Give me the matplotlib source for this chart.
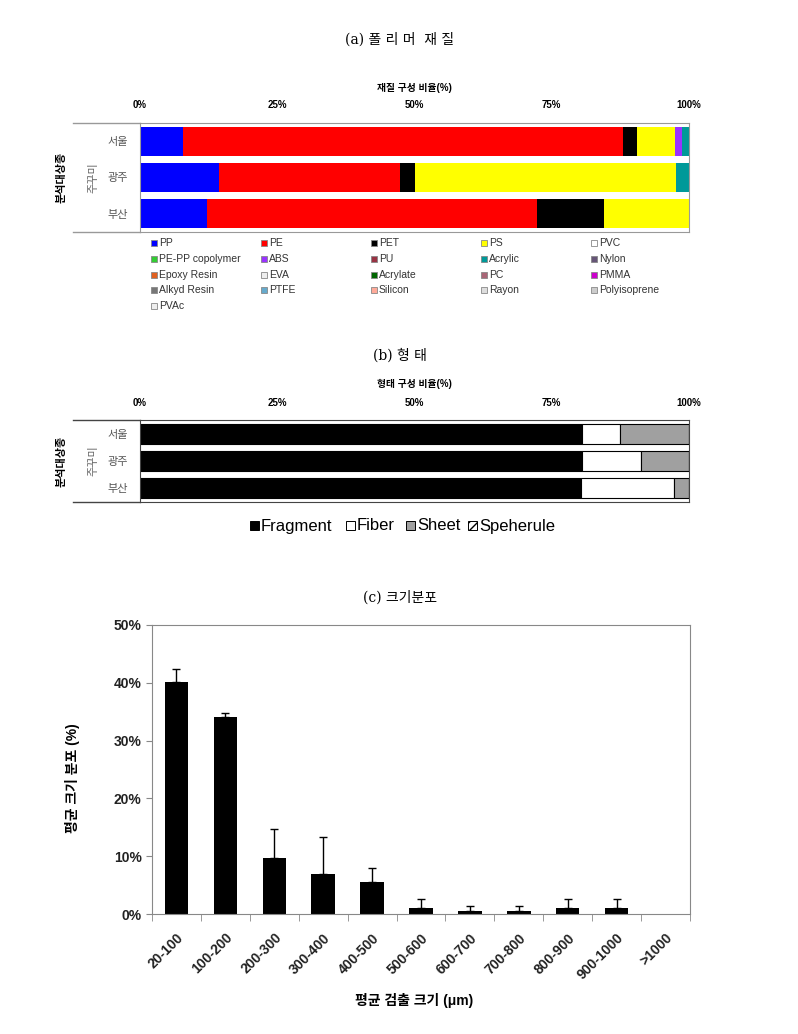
import numpy as np
import matplotlib.pyplot as plt
from matplotlib.patches import Rectangle

plt.rcParams['font.family'] = ['Liberation Sans', 'Noto Sans CJK KR']

# ---- data ----
regions = ['서울', '광주', '부산']

polymer_types = ['PP', 'PE', 'PET', 'PS', 'PVC',
                 'PE-PP copolymer', 'ABS', 'PU', 'Acrylic', 'Nylon',
                 'Epoxy Resin', 'EVA', 'Acrylate', 'PC', 'PMMA',
                 'Alkyd Resin', 'PTFE', 'Silicon', 'Rayon', 'Polyisoprene',
                 'PVAc']
polymer_colors = ['#0000FF', '#FF0000', '#000000', '#FFFF00', '#FFFFFF',
                  '#33CC33', '#9933FF', '#993344', '#009999', '#665577',
                  '#E06020', '#EEEEEE', '#006600', '#AA6677', '#CC00CC',
                  '#777777', '#66AACC', '#FFAA99', '#DDDDDD', '#CCCCCC',
                  '#EEEEEE']

# % share per region (서울, 광주, 부산); types not listed are 0
pp_pct = [7.8, 14.4, 12.2]
pe_pct = [80.2, 33.0, 60.1]
pet_pct = [2.5, 2.7, 12.2]
ps_pct = [6.9, 47.5, 15.5]
abs_pct = [1.3, 0.0, 0.0]
acrylic_pct = [1.3, 2.4, 0.0]
polymer_pct = {'PP': pp_pct, 'PE': pe_pct, 'PET': pet_pct, 'PS': ps_pct,
               'ABS': abs_pct, 'Acrylic': acrylic_pct}

shape_types = ['Fragment', 'Fiber', 'Sheet', 'Speherule']
shape_colors = ['#000000', '#FFFFFF', '#A0A0A0', '#FFFFFF']
fragment_pct = [80.5, 80.5, 80.3]
fiber_pct = [6.9, 10.8, 17.0]
sheet_pct = [12.6, 8.7, 2.7]
spherule_pct = [0.0, 0.0, 0.0]
shape_pct = [fragment_pct, fiber_pct, sheet_pct, spherule_pct]

size_bins = ['20-100', '100-200', '200-300', '300-400', '400-500', '500-600',
             '600-700', '700-800', '800-900', '900-1000', '>1000']
size_mean = [40.1, 34.1, 9.7, 6.9, 5.6, 1.0, 0.45, 0.45, 1.0, 1.0, 0.0]
size_err = [2.3, 0.7, 5.0, 6.4, 2.4, 1.6, 0.9, 0.9, 1.6, 1.6, 0.0]

# ---- figure ----
W, H = 798, 1034
fig = plt.figure(figsize=(W / 100, H / 100), dpi=100)

# overlay in pixel coords for free text
bg = fig.add_axes([0, 0, 1, 1])
bg.set_xlim(0, W)
bg.set_ylim(H, 0)
bg.axis('off')


def fig_box(x0, y0, x1, y1):
    return [x0 / W, 1 - y1 / H, (x1 - x0) / W, (y1 - y0) / H]


serif = ['DejaVu Serif', 'Noto Sans CJK KR']
bg.text(400, 40, '(a) 폴 리 머  재 질', ha='center', va='center', fontsize=10, family=serif)
bg.text(400, 355, '(b) 형 태', ha='center', va='center', fontsize=10, family=serif)
bg.text(400, 598, '(c) 크기분포', ha='center', va='center', fontsize=10, family=serif)


def stacked_panel(box, frame_color):
    ax = fig.add_axes(fig_box(*box))
    ax.set_xlim(0, 100)
    ax.set_ylim(2.5, -0.5)
    ax.xaxis.tick_top()
    ax.set_xticks([0, 25, 50, 75, 100])
    ax.set_xticklabels(['0%', '25%', '50%', '75%', '100%'], fontsize=7, fontweight='bold')
    ax.tick_params(axis='x', length=0, pad=9)
    ax.set_yticks(range(len(regions)))
    ax.set_yticklabels(regions, fontsize=8, color='#555555')
    ax.tick_params(axis='y', length=0, pad=9)
    for s in ax.spines.values():
        s.set_color(frame_color)
    x0, y0, x1, y1 = box
    bg.plot([73, x0], [y0, y0], color=frame_color, lw=1)
    bg.plot([73, x0], [y1, y1], color=frame_color, lw=1)
    mid = (y0 + y1) / 2
    bg.text(93, mid, '주꾸미', rotation=90, ha='center', va='center', fontsize=8, color='#666666')
    bg.text(62, mid, '분석대상종', rotation=90, ha='center', va='center', fontsize=8,
            fontweight='bold')
    return ax


# (a) polymer composition
ax_a = stacked_panel((140, 123, 689, 232), '#999999')
ypos = np.arange(len(regions))
left = np.zeros(len(regions))
for name, color in zip(polymer_types, polymer_colors):
    vals = np.array(polymer_pct.get(name, [0.0, 0.0, 0.0]))
    ax_a.barh(ypos, vals, left=left, height=0.8, color=color, edgecolor='none')
    left += vals
bg.text(414, 88, '재질 구성 비율(%)', ha='center', va='center', fontsize=7, fontweight='bold')

# legend (a), filled row by row
for i, (name, color) in enumerate(zip(polymer_types, polymer_colors)):
    r, c = divmod(i, 5)
    lx = 151 + c * 110
    ly = 243 + r * 15.8
    bg.add_patch(Rectangle((lx, ly - 3), 6, 6, facecolor=color, edgecolor='#888888', lw=0.6))
    bg.text(lx + 8, ly, name, ha='left', va='center', fontsize=7.5, color='#333333')

# (b) shape composition
ax_b = stacked_panel((140, 420, 689, 502), '#444444')
left = np.zeros(len(regions))
for name, color, vals in zip(shape_types, shape_colors, shape_pct):
    vals = np.array(vals)
    ax_b.barh(ypos, vals, left=left, height=0.73, color=color, edgecolor='black', lw=0.8,
              hatch='/////' if name == 'Speherule' else None)
    left += vals
bg.text(414, 384, '형태 구성 비율(%)', ha='center', va='center', fontsize=7, fontweight='bold')

leg_x = [250, 346, 406, 468]
for name, color, lx in zip(shape_types, shape_colors, leg_x):
    bg.add_patch(Rectangle((lx, 521), 9, 9, facecolor=color, edgecolor='black', lw=0.7,
                           hatch='////' if name == 'Speherule' else None))
    bg.text(lx + 11, 526, name, ha='left', va='center', fontsize=12)

# (c) size distribution
ax_c = fig.add_axes(fig_box(152, 625, 690, 914))
xpos = np.arange(len(size_bins))
means = np.array(size_mean)
errs = np.array(size_err)
ax_c.bar(xpos, means, width=0.48, color='black')
has_err = errs > 0
ax_c.errorbar(xpos[has_err], means[has_err],
              yerr=[np.zeros(has_err.sum()), errs[has_err]],
              fmt='none', ecolor='black', elinewidth=1, capsize=3, capthick=1)
ax_c.set_xlim(-0.5, len(size_bins) - 0.5)
ax_c.set_ylim(0, 50)
ax_c.set_yticks(np.arange(0, 51, 10))
ax_c.set_yticklabels([f'{v}%' for v in range(0, 51, 10)], fontsize=10, fontweight='bold',
                     color='#222222')
ax_c.set_xticks(xpos)
ax_c.set_xticklabels(size_bins, rotation=45, ha='right', rotation_mode='anchor',
                     fontsize=10, fontweight='bold', color='#222222')
ax_c.set_xticks(np.arange(-0.5, len(size_bins), 1), minor=True)
ax_c.tick_params(axis='x', which='major', length=0, pad=12)
ax_c.tick_params(axis='x', which='minor', length=5, color='#888888', direction='out')
ax_c.tick_params(axis='y', length=4, color='#888888', direction='out')
for s in ax_c.spines.values():
    s.set_color('#888888')
bg.text(414, 1000, '평균 검출 크기 (μm)', ha='center', va='center', fontsize=10, fontweight='bold')
bg.text(73, 778, '평균 크기 분포 (%)', rotation=90, ha='center', va='center', fontsize=10,
        fontweight='bold')

fig.savefig('out.png', dpi=100, facecolor='white')
